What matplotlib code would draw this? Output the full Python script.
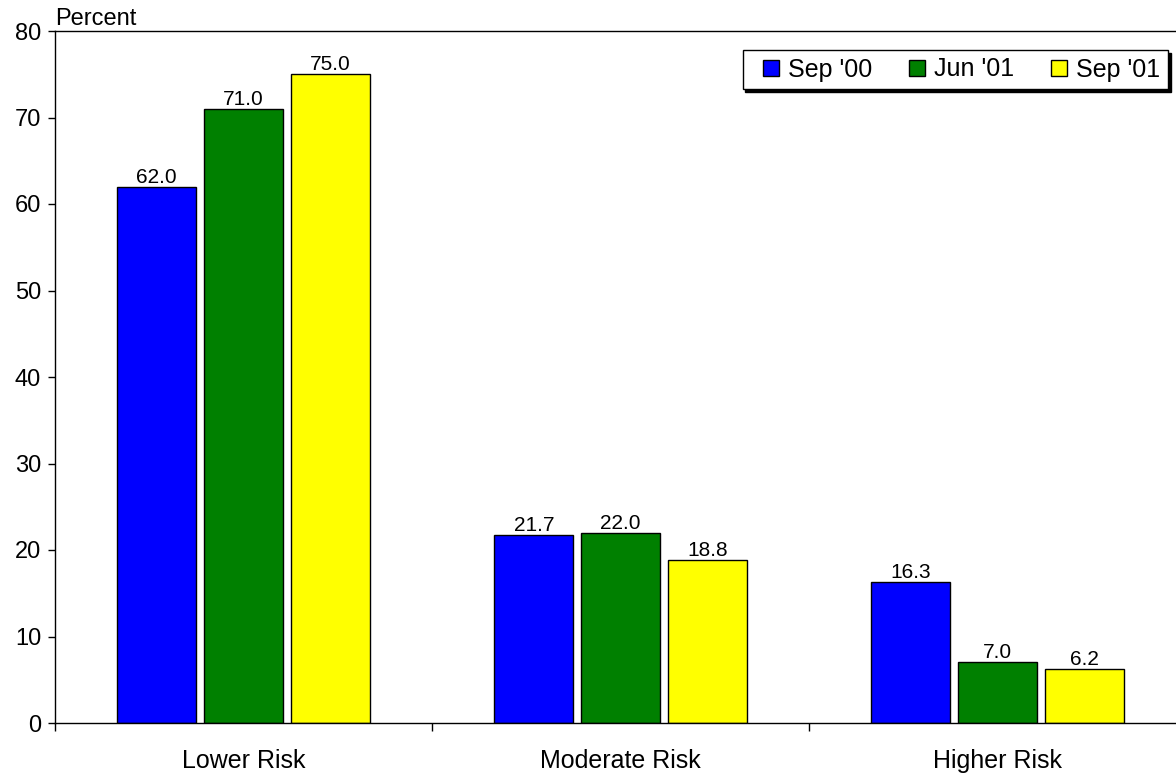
import matplotlib
matplotlib.use("Agg")
import matplotlib.pyplot as plt
from matplotlib.legend_handler import HandlerPatch
from matplotlib.patches import Rectangle
import numpy as np

plt.rcParams['font.family'] = ['Liberation Sans', 'DejaVu Sans']

categories = ["Lower Risk", "Moderate Risk", "Higher Risk"]
series_names = ["Sep '00", "Jun '01", "Sep '01"]
sep00 = [62.0, 21.7, 16.3]
jun01 = [71.0, 22.0, 7.0]
sep01 = [75.0, 18.8, 6.2]
colors = ["#0000FF", "#008000", "#FFFF00"]
y_ticks = [0, 10, 20, 30, 40, 50, 60, 70, 80]

fig = plt.figure(figsize=(11.76, 7.79), dpi=100)
ax = fig.add_axes([55 / 1176, 1 - 723 / 779, 1131 / 1176, (723 - 31) / 779])

x = np.arange(len(categories))
offsets = [-0.23, 0.0, 0.23]
width = 0.21
handles = []
for vals, off, col, name in zip([sep00, jun01, sep01], offsets, colors, series_names):
    bars = ax.bar(x + off, vals, width, color=col, edgecolor="black", linewidth=1.0, label=name)
    handles.append(bars[0])
    for b, v in zip(bars, vals):
        ax.annotate(f"{v:.1f}", (b.get_x() + b.get_width() / 2, v), xytext=(0, 0),
                    textcoords="offset points", ha="center", va="bottom", fontsize=15)

ax.set_xlim(-0.5, 2.5)
ax.set_ylim(0, 80)
ax.set_yticks(y_ticks)
ax.tick_params(axis="y", direction="out", length=5, width=1, labelsize=17, pad=5)

ax.set_xticks([-0.5, 0.5, 1.5, 2.5])
ax.set_xticklabels([])
ax.tick_params(axis="x", which="major", direction="out", length=6, width=1)
ax.set_xticks(x, minor=True)
ax.set_xticklabels(categories, minor=True, fontsize=18)
ax.tick_params(axis="x", which="minor", length=0, pad=19)

for s in ["left", "bottom", "top"]:
    ax.spines[s].set_linewidth(1.0)
ax.spines["right"].set_visible(False)

ax.text(0, 1.001, "Percent", transform=ax.transAxes, ha="left", va="bottom", fontsize=17)


def square_patch(legend, orig_handle, xdescent, ydescent, width, height, fontsize):
    # small square key, right-aligned inside the handle box
    side = 0.64 * fontsize
    return Rectangle((width - side - xdescent, (height - side) / 2 - ydescent), side, side)


leg = ax.legend(handles=handles, labels=series_names, ncol=3, loc="upper right",
                bbox_to_anchor=(1168 / 1176, 1 - 50 / 779),
                bbox_transform=fig.transFigure, borderaxespad=0, fontsize=18,
                frameon=True, fancybox=False, edgecolor="black", framealpha=1,
                handlelength=1.16, handleheight=0.65, handletextpad=0.36, columnspacing=0.96,
                borderpad=0.3, shadow={"color": "black", "alpha": 1.0},
                handler_map={Rectangle: HandlerPatch(patch_func=square_patch)})
leg.get_frame().set_linewidth(1.0)

fig.savefig("out.png", dpi=100)
